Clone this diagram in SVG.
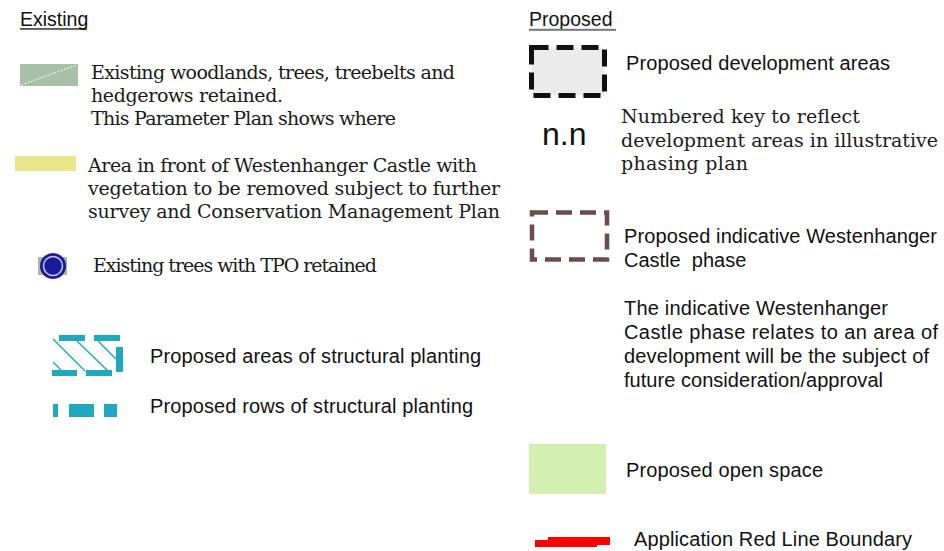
<svg xmlns="http://www.w3.org/2000/svg" width="944" height="551" viewBox="0 0 944 551">
<style>
.serif{font-family:"DejaVu Serif","Liberation Serif",serif;font-size:19px;fill:#1a1a1a}
.sans{font-family:"Liberation Sans",Arial,sans-serif;font-size:20px;fill:#111}
.head{font-size:19.5px}
.big{font-size:32px}
.teal{fill:#1ea9c1}
.hatch{stroke:#1ea9c1;stroke-width:1.5;fill:none}
</style>
<rect width="944" height="551" fill="#fff"/>
<g id="header-existing">
<text class="sans head" x="20" y="26">Existing</text>
<rect x="20" y="28.3" width="67" height="1.3" fill="#111"/>
</g>
<g id="header-proposed">
<text class="sans head" x="529" y="26">Proposed</text>
<rect x="529" y="28.8" width="87" height="2" fill="#777"/>
</g>
<g id="existing-woodlands">
<rect x="20" y="64" width="58" height="22" fill="#aabfa7"/>
<line x1="21" y1="85" x2="77" y2="65" stroke="#fff" stroke-width="1" stroke-dasharray="2 1.5"/>
<text class="serif" x="91" y="79" textLength="364">Existing woodlands, trees, treebelts and</text>
<text class="serif" x="91" y="102" textLength="192">hedgerows retained.</text>
<text class="serif" x="91" y="125" textLength="305">This Parameter Plan shows where</text>
</g>
<g id="castle-vegetation">
<rect x="15" y="156" width="61" height="15" fill="#e8e88a"/>
<text class="serif" x="88" y="172" textLength="389">Area in front of Westenhanger Castle with</text>
<text class="serif" x="88" y="195" textLength="412">vegetation to be removed subject to further</text>
<text class="serif" x="88" y="218" textLength="412">survey and Conservation Management Plan</text>
</g>
<g id="tpo-trees">
<rect x="38" y="257" width="29" height="18" fill="#a9b8a6"/>
<circle cx="53" cy="266" r="13" fill="#1a1a9c"/>
<circle cx="53" cy="266" r="9.5" fill="none" stroke="#c8c8e4" stroke-width="1.5"/>
<text class="serif" x="93" y="272" textLength="284">Existing trees with TPO retained</text>
</g>
<g id="structural-planting-areas">
<rect class="teal" x="59" y="335" width="26" height="6"/>
<rect class="teal" x="94" y="335" width="26" height="6"/>
<rect class="teal" x="116" y="347" width="7" height="25"/>
<rect class="teal" x="52" y="370" width="25" height="6"/>
<rect class="teal" x="86" y="370" width="26" height="6"/>
<line class="hatch" x1="53" y1="339" x2="85" y2="371"/>
<line class="hatch" x1="77" y1="341" x2="108" y2="371"/>
<line class="hatch" x1="98" y1="341" x2="116" y2="359"/>
<line class="hatch" x1="53" y1="362" x2="61" y2="370"/>
<text class="sans" x="150" y="363" textLength="331">Proposed areas of structural planting</text>
</g>
<g id="structural-planting-rows">
<rect class="teal" x="53" y="404" width="5" height="13"/>
<rect class="teal" x="69" y="404" width="25" height="13"/>
<rect class="teal" x="104" y="404" width="13" height="13"/>
<text class="sans" x="150" y="413" textLength="323">Proposed rows of structural planting</text>
</g>
<g id="development-areas">
<rect x="531.5" y="47.5" width="73" height="48" fill="#ebebeb" stroke="#111" stroke-width="5" stroke-dasharray="17 8"/>
<text class="sans" x="626" y="70" textLength="264">Proposed development areas</text>
</g>
<g id="numbered-key">
<text class="sans big" x="542" y="145">n.n</text>
<text class="serif" x="621" y="123" textLength="239">Numbered key to reflect</text>
<text class="serif" x="621" y="147" textLength="317">development areas in illustrative</text>
<text class="serif" x="621" y="170" textLength="127">phasing plan</text>
</g>
<g id="castle-phase">
<rect x="532" y="212.5" width="75" height="47" fill="none" stroke="#6e4c4c" stroke-width="4.5" stroke-dasharray="16 8"/>
<text class="sans" x="624" y="243" textLength="313">Proposed indicative Westenhanger</text>
<text class="sans" x="624" y="267" xml:space="preserve">Castle  phase</text>
</g>
<g id="castle-phase-note">
<text class="sans" x="624" y="315" textLength="264">The indicative Westenhanger</text>
<text class="sans" x="624" y="339" textLength="314">Castle phase relates to an area of</text>
<text class="sans" x="624" y="363" textLength="305">development will be the subject of</text>
<text class="sans" x="624" y="387" textLength="259">future consideration/approval</text>
</g>
<g id="open-space">
<rect x="529" y="444" width="77" height="50" fill="#d3f0b1"/>
<text class="sans" x="626" y="477" textLength="197">Proposed open space</text>
</g>
<g id="red-line">
<polygon points="548,537 610,537 610,545 597,545 597,547 535,547 535,540 548,540" fill="#ff0000"/>
<text class="sans" x="634" y="546" textLength="278">Application Red Line Boundary</text>
</g>
<g id="connectors"/>
</svg>
